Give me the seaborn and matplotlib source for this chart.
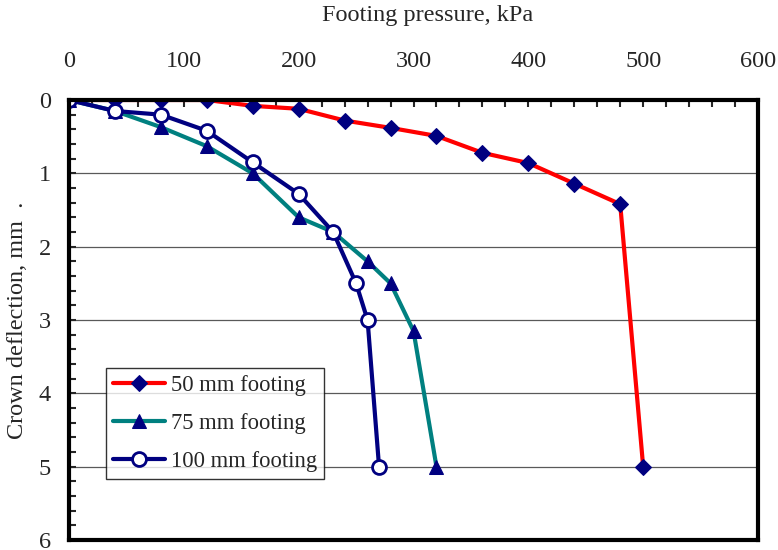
import pandas as pd
import matplotlib.pyplot as plt
import seaborn as sns
from matplotlib.ticker import MultipleLocator

# [1. 데이터] footing pressure (kPa) vs crown deflection (mm)
p_50 = [0, 40, 80, 120, 160, 200, 240, 280, 320, 360, 400, 440, 480, 500]
d_50 = [0, 0, 0, 0, 0.08, 0.12, 0.28, 0.38, 0.49, 0.72, 0.86, 1.14, 1.42, 5.0]

p_75 = [0, 40, 80, 120, 160, 200, 230, 260, 280, 300, 320]
d_75 = [0, 0.15, 0.37, 0.63, 1.0, 1.6, 1.8, 2.2, 2.5, 3.15, 5.0]

p_100 = [0, 40, 80, 120, 160, 200, 230, 250, 260, 270]
d_100 = [0, 0.15, 0.2, 0.42, 0.85, 1.28, 1.8, 2.5, 3.0, 5.0]

labels = ['50 mm footing', '75 mm footing', '100 mm footing']

df_50 = pd.DataFrame({'p': p_50, 'd': d_50})
df_75 = pd.DataFrame({'p': p_75, 'd': d_75})
df_100 = pd.DataFrame({'p': p_100, 'd': d_100})

# [2. 스타일]
sns.set_style('white')
plt.rcParams['font.family'] = ['Liberation Serif', 'DejaVu Serif']
navy = '#000080'
fs = 17.5

fig, ax = plt.subplots(figsize=(7.78, 5.5), dpi=100)
fig.subplots_adjust(left=69/778, right=758/778, top=1-100/550, bottom=1-540/550)

# [3. 선 그래프] 마커 테두리는 seaborn 기본값(흰색) 대신 남색으로
sns.lineplot(data=df_50, x='p', y='d', sort=False, estimator=None, ax=ax,
             color='#FF0000', lw=3, marker='D', markersize=8.5,
             markerfacecolor=navy, markeredgecolor=navy, label=labels[0])
sns.lineplot(data=df_75, x='p', y='d', sort=False, estimator=None, ax=ax,
             color='#008080', lw=3, marker='^', markersize=10,
             markerfacecolor=navy, markeredgecolor=navy, label=labels[1])
sns.lineplot(data=df_100, x='p', y='d', sort=False, estimator=None, ax=ax,
             color=navy, lw=3, marker='o', markersize=10,
             markerfacecolor='white', markeredgecolor=navy,
             markeredgewidth=2, label=labels[2])

# [4. 축 설정]
ax.set_xlim(0, 600)
ax.set_ylim(6, 0)
ax.xaxis.tick_top()
ax.xaxis.set_label_position('top')
ax.xaxis.set_major_locator(MultipleLocator(100))
ax.xaxis.set_minor_locator(MultipleLocator(20))
ax.yaxis.set_major_locator(MultipleLocator(1))
ax.yaxis.set_minor_locator(MultipleLocator(0.2))
ax.tick_params(axis='x', which='both', direction='in', length=5, width=1.5,
               top=True, bottom=False, labelsize=fs, pad=20)
ax.tick_params(axis='y', which='both', direction='in', length=5, width=1.5,
               left=True, right=False, labelsize=fs, pad=13)
ax.grid(True, axis='y', which='major', color='0.35', lw=0.9)
ax.set_axisbelow(True)
for s in ax.spines.values():
    s.set_linewidth(3)
    s.set_color('black')

ax.set_xlabel('Footing pressure, kPa', fontsize=fs, labelpad=22)
ax.xaxis.label.set_x(0.521)  # 원본은 살짝 오른쪽에 있음
ax.set_ylabel('Crown deflection, mm  .', fontsize=fs, labelpad=8)

leg = ax.legend(loc='lower left', bbox_to_anchor=(0.054, 0.139), fontsize=16.3,
                frameon=True, fancybox=False, edgecolor='black',
                handlelength=2.3, handletextpad=0.25, borderpad=0.3,
                labelspacing=0.75, borderaxespad=0)
leg.get_frame().set_linewidth(1)

plt.savefig('out.png', dpi=100)
